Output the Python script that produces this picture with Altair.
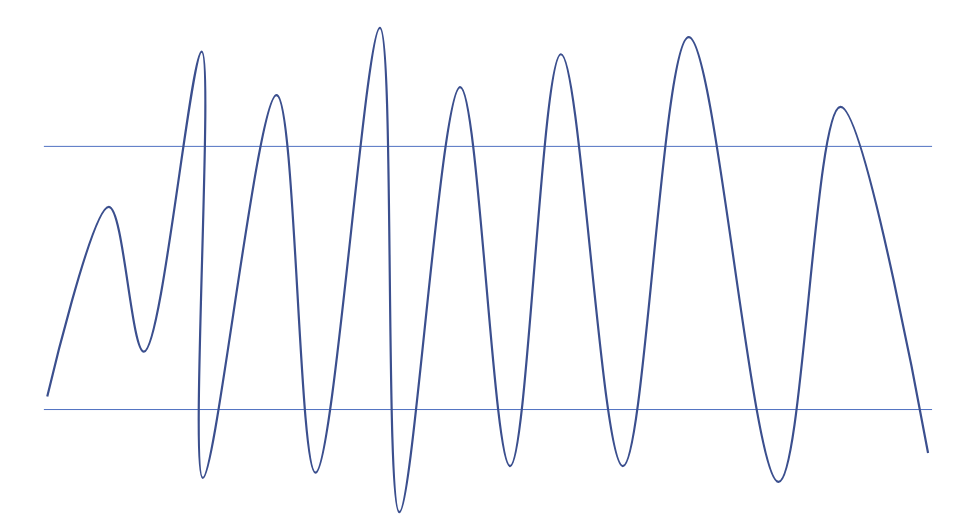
import altair as alt
import pandas as pd

# signal readings (arbitrary units), thresholds at +1 / -1
t_values = [0.38, 7.32, 11.26, 17.77, 17.89, 26.2, 30.58, 37.83, 40.02, 46.87,
            52.49, 58.22, 65.19, 72.6, 82.72, 89.68, 99.55]
signal = [-0.90, 0.54, -0.56, 1.72, -1.52, 1.39, -1.48, 1.90, -1.78, 1.45,
          -1.43, 1.70, -1.43, 1.83, -1.55, 1.30, -1.33]
thresholds = [1.0, -1.0]
t_start, t_end = 0, 100

df = pd.DataFrame({"t": t_values, "v": signal, "order": list(range(len(signal)))})
rules_df = pd.DataFrame({"y": thresholds, "x0": [t_start] * 2, "x1": [t_end] * 2})

xs = alt.Scale(domain=[0, 100], nice=False, zero=False)
ys = alt.Scale(domain=[-1.8, 2.0], nice=False, zero=False)

rules = alt.Chart(rules_df).mark_rule(color="#4f70c2", strokeWidth=1).encode(
    x=alt.X("x0:Q", scale=xs, axis=None),
    x2="x1:Q",
    y=alt.Y("y:Q", scale=ys, axis=None),
)

line = alt.Chart(df).mark_line(
    color="#3b4f8e", strokeWidth=2.2, interpolate="catmull-rom"
).encode(
    x=alt.X("t:Q", scale=xs, axis=None),
    y=alt.Y("v:Q", scale=ys, axis=None),
    order="order:Q",
)

chart = alt.layer(rules, line).properties(
    width=891,
    height=501.6,
    autosize="none",
    background="white",
    padding={"left": 36, "top": 6, "right": 20, "bottom": 10},
).configure_view(strokeWidth=0)

chart.save("out.html", embed_options={"renderer": "svg", "actions": False})
